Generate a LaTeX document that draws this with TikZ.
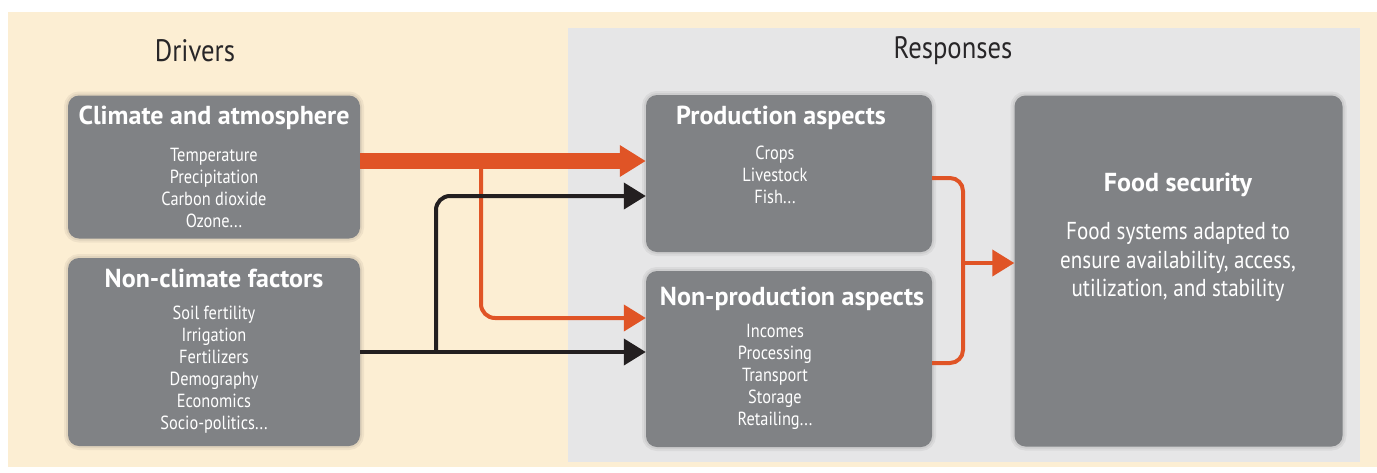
\documentclass[tikz,border=0pt]{standalone}
\usepackage{fontspec}
\setmainfont{PT Sans}[FakeStretch=0.86]
\newfontfamily\ttlfont{PT Sans}
\usetikzlibrary{arrows.meta}
\definecolor{beige}{RGB}{252,238,211}
\definecolor{panel}{RGB}{230,230,231}
\definecolor{boxgrey}{RGB}{128,130,133}
\definecolor{org}{RGB}{224,84,38}
\definecolor{blk}{RGB}{35,31,32}
\definecolor{hdr}{RGB}{40,38,40}
\tikzset{
  box/.style={fill=boxgrey, rounded corners=11pt, inner sep=0pt,
    preaction={draw=black, draw opacity=0.05, line width=8pt},
    preaction={draw=black, draw opacity=0.06, line width=4pt}},
  ttl/.style={text=white, inner sep=0pt, font=\ttlfont\fontsize{26}{30}\selectfont\bfseries},
  itm/.style={text=white, inner sep=0pt, align=center, font=\fontsize{19}{22}\selectfont},
  fsitm/.style={text=white, inner sep=0pt, align=center, font=\fontsize{24.5}{28.5}\selectfont},
  hd/.style={text=hdr, inner sep=0pt, font=\fontsize{31}{34}\selectfont},
  thickorg/.style={draw=org, line width=16pt, -{Triangle[length=26pt,width=30pt]}},
  orgline/.style={draw=org, line width=4pt, rounded corners=14pt, -{Triangle[length=22pt,width=26pt]}},
  blkline/.style={draw=blk, line width=4pt, rounded corners=14pt, -{Triangle[length=22pt,width=26pt]}},
  bracket/.style={draw=org, line width=4pt, rounded corners=13pt}
}
\begin{document}
\begin{tikzpicture}[x=1pt,y=-1pt]
\useasboundingbox (0,0) rectangle (1377,472);
\fill[white] (0,0) rectangle (1377,472);
\fill[beige] (8,12) rectangle (1377,467);
\fill[panel] (568,28) rectangle (1360,462);

\node[hd] (drivers) at (195,51) {Drivers};
\node[hd] (responses) at (953,51) {Responses};

% boxes
\node[box, minimum width=292pt, minimum height=143pt] (clim) at (214,167) {};
\node[box, minimum width=292pt, minimum height=188pt] (nonclim) at (214,352) {};
\node[box, minimum width=286pt, minimum height=157pt] (prod) at (789,173.5) {};
\node[box, minimum width=286pt, minimum height=176pt] (nonprod) at (789,359) {};
\node[box, minimum width=328pt, minimum height=351pt] (food) at (1178.5,271) {};

% texts
\node[ttl] (climT) at (214,118) {Climate and atmosphere};
\node[itm] (climI) at (214,188) {Temperature\\Precipitation\\Carbon dioxide\\Ozone...};
\node[ttl] (nonclimT) at (214,278) {Non-climate factors};
\node[itm] (nonclimI) at (214,370) {Soil fertility\\Irrigation\\Fertilizers\\Demography\\Economics\\Socio-politics...};
\node[ttl] (prodT) at (781,118) {Production aspects};
\node[itm] (prodI) at (775,175) {Crops\\Livestock\\Fish...};
\node[ttl] (nonprodT) at (792,299) {Non-production aspects};
\node[itm] (nonprodI) at (775,376.5) {Incomes\\Processing\\Transport\\Storage\\Retailing...};
\node[ttl] (foodT) at (1178,185) {Food security};
\node[fsitm] (foodI) at (1178,262) {Food systems adapted to\\ensure availability, access,\\utilization, and stability};

% connectors
\coordinate (c1) at (clim.east |- 0,161);
\coordinate (p1) at (prod.west |- 0,161);
\draw[thickorg] (c1) -- (p1);

\coordinate (ob) at (481,161);
\coordinate (np1) at (nonprod.west |- 0,318);
\draw[orgline] (ob) |- (np1);

\coordinate (n1) at (nonclim.east |- 0,352);
\coordinate (np2) at (nonprod.west |- 0,352);
\draw[blkline, rounded corners=0pt] (n1) -- (np2);
\coordinate (bb) at (436,352);
\coordinate (p2) at (prod.west |- 0,196);
\draw[blkline] (bb) |- (p2);

\coordinate (pr) at (prod.east |- 0,178);
\coordinate (npr) at (nonprod.east |- 0,363);
\draw[bracket] (pr) -- (963,178) -- (963,363) -- (npr);
\coordinate (bm) at (963,263);
\coordinate (fs) at (food.west |- 0,263);
\draw[orgline] (bm) -- (fs);
\end{tikzpicture}
\end{document}
